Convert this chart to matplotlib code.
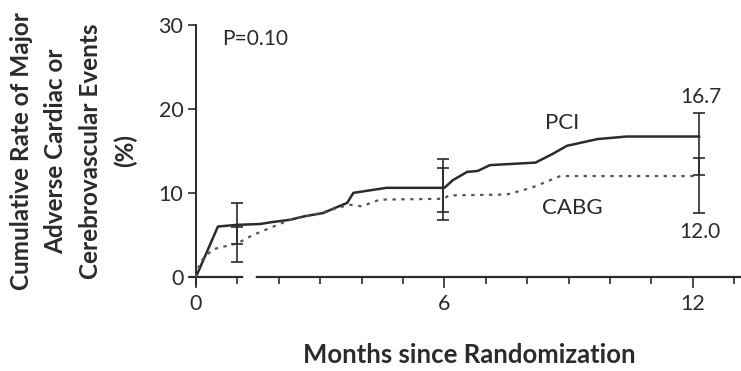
import numpy as np
import matplotlib
matplotlib.use('Agg')
import matplotlib.pyplot as plt
from matplotlib.ticker import FixedLocator

# Kaplan-Meier style cumulative event curves (months, %)
pci_months = [0, 0.53, 1.0, 1.55, 1.8, 2.27, 2.6, 3.07, 3.4, 3.65, 3.8, 4.2, 4.6,
              6.0, 6.2, 6.55, 6.8, 7.1, 8.2, 8.6, 8.96, 9.7, 10.4, 12.15]
pci_rate = [0, 6.0, 6.2, 6.3, 6.5, 6.8, 7.2, 7.6, 8.3, 8.8, 10.0, 10.3, 10.6,
            10.6, 11.5, 12.5, 12.6, 13.3, 13.6, 14.6, 15.6, 16.4, 16.7, 16.7]

cabg_months = [0, 0.1, 0.41, 1.0, 1.38, 2.27, 3.0, 3.7, 4.0, 4.44, 6.0, 6.1,
               7.5, 8.1, 8.8, 12.15]
cabg_rate = [0, 1.8, 3.3, 4.0, 5.0, 6.8, 7.6, 8.6, 8.4, 9.2, 9.3, 9.7,
             9.8, 10.6, 12.0, 12.0]

# confidence intervals at 1, 6 and 12 months
ci_months = [1.0, 5.97, 12.15]
pci_mid = [6.2, 10.6, 16.7]
pci_lo = [3.9, 7.7, 12.1]
pci_hi = [8.8, 14.0, 19.5]
cabg_mid = [4.0, 9.3, 12.0]
cabg_lo = [1.8, 6.8, 7.6]
cabg_hi = [6.0, 13.0, 14.2]

yticks = [0, 10, 20, 30]
xticks = [0, 6, 12]

ink = '#2b2b2b'
plt.rcParams['font.family'] = ['Lato', 'DejaVu Sans']

fig = plt.figure(figsize=(7.41, 3.71), dpi=100)
ax = fig.add_axes([0.2561, 0.2353, 0.746, 0.7095])
ax.set_xlim(-0.15, 13.2)
ax.set_ylim(-0.8, 30.5)

ax.plot(pci_months, pci_rate, color=ink, lw=1.8, zorder=3)
ax.plot(cabg_months, cabg_rate, color='#555555', lw=1.6, ls=(0, (1.5, 2.5)), zorder=3)

ax.errorbar(ci_months, pci_mid,
            yerr=[np.subtract(pci_mid, pci_lo), np.subtract(pci_hi, pci_mid)],
            fmt='none', ecolor=ink, elinewidth=1.2, capsize=4, capthick=1.2, zorder=4)
ax.errorbar(ci_months, cabg_mid,
            yerr=[np.subtract(cabg_mid, cabg_lo), np.subtract(cabg_hi, cabg_mid)],
            fmt='none', ecolor=ink, elinewidth=1.2, capsize=4, capthick=1.2, zorder=4)

for s in ['top', 'right']:
    ax.spines[s].set_visible(False)
ax.spines['left'].set_position(('data', 0))
ax.spines['bottom'].set_position(('data', 0))
ax.spines['left'].set_bounds(-0.8, 30)
ax.spines['left'].set_color(ink)
ax.spines['bottom'].set_color(ink)
ax.spines['left'].set_linewidth(1.4)
ax.spines['bottom'].set_linewidth(1.6)
# small break in the time axis
ax.plot([1.22, 1.38], [0, 0], color='white', lw=4, zorder=5, clip_on=False)

ax.set_yticks(yticks)
ax.set_xticks(xticks)
ax.xaxis.set_minor_locator(FixedLocator(range(1, 14)))
ax.tick_params(axis='y', direction='out', length=6, width=1.2, color=ink,
               labelsize=15.5, labelcolor=ink, pad=3)
ax.tick_params(axis='x', which='major', direction='out', length=8, width=1.2,
               color=ink, labelsize=15.5, labelcolor=ink, pad=4)
ax.tick_params(axis='x', which='minor', direction='out', length=5, width=1.2, color=ink)

ax.text(0.62, 28.3, 'P=0.10', fontsize=15, color=ink, va='center', ha='left')
ax.text(8.84, 18.3, 'PCI', fontsize=16, color=ink, va='center', ha='center')
ax.text(9.1, 8.2, 'CABG', fontsize=16, color=ink, va='center', ha='center')
ax.text(12.2, 21.4, '16.7', fontsize=15, color=ink, va='center', ha='center')
ax.text(12.17, 5.4, '12.0', fontsize=15, color=ink, va='center', ha='center')

fig.text(0.099, 0.593,
         'Cumulative Rate of Major\nAdverse Cardiac or\nCerebrovascular Events\n(%)',
         rotation=90, ha='center', va='center', multialignment='center',
         fontsize=17.5, color=ink, fontweight='bold', linespacing=1.6)
fig.text(0.634, 0.043, 'Months since Randomization', ha='center', va='center',
         fontsize=18.5, color=ink, fontweight='bold')

fig.savefig('out.png', dpi=100)
